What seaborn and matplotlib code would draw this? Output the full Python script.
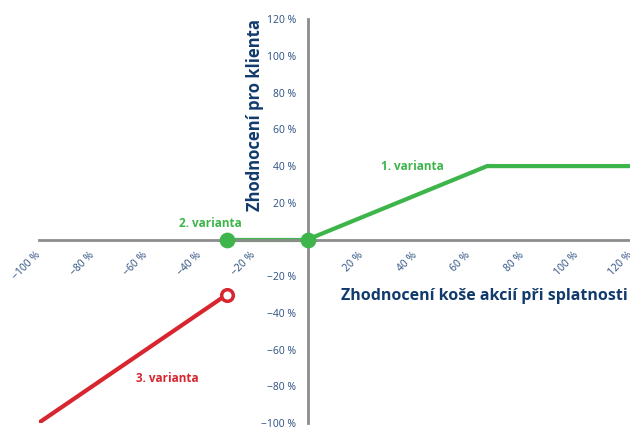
import matplotlib
matplotlib.use("Agg")
import matplotlib.pyplot as plt
import seaborn as sns
import pandas as pd

sns.set_style("white")
plt.rcParams["font.family"] = ["Open Sans", "DejaVu Sans"]

# data (% values)
v1_x = [0, 66.7, 120]
v1_y = [0, 40, 40]
v2_x = [-30, 0]
v2_y = [0, 0]
v3_x = [-100, -30]
v3_y = [-100, -30]
ticks = [-100, -80, -60, -40, -20, 20, 40, 60, 80, 100, 120]
tick_labels = ["\u2212100 %", "\u221280 %", "\u221260 %", "\u221240 %", "\u221220 %",
               "20 %", "40 %", "60 %", "80 %", "100 %", "120 %"]

GREEN = "#3db54a"
RED = "#d7262f"
BLUE = "#123b6d"
TICKBLUE = "#2b4f80"
GRAY = "#8c8c8c"

fig = plt.figure(figsize=(6.3, 4.28), dpi=100)
ax = fig.add_axes([38.5 / 630, 5 / 428, 592 / 630, 403.7 / 428])

df1 = pd.DataFrame({"x": v1_x, "y": v1_y})
df2 = pd.DataFrame({"x": v2_x, "y": v2_y})
df3 = pd.DataFrame({"x": v3_x, "y": v3_y})

sns.lineplot(data=df1, x="x", y="y", color=GREEN, lw=3, ax=ax, sort=False)
sns.lineplot(data=df2, x="x", y="y", color=GREEN, lw=3, ax=ax, sort=False)
sns.lineplot(data=df3, x="x", y="y", color=RED, lw=3, ax=ax, sort=False)
sns.scatterplot(x=v2_x, y=v2_y, color=GREEN, s=110, edgecolor=GREEN, ax=ax, zorder=5)
sns.scatterplot(x=[v3_x[-1]], y=[v3_y[-1]], color="white", s=70, edgecolor=RED,
                linewidth=2.5, ax=ax, zorder=5)

ax.set_xlim(-100, 120)
ax.set_ylim(-100, 120)
ax.spines["left"].set_position(("data", 0))
ax.spines["bottom"].set_position(("data", 0))
ax.spines["right"].set_visible(False)
ax.spines["top"].set_visible(False)
for s in ["left", "bottom"]:
    ax.spines[s].set_color(GRAY)
    ax.spines[s].set_linewidth(2)

ax.set_xticks(ticks)
ax.set_xticklabels(tick_labels, rotation=45, ha="right", va="center",
                   rotation_mode="anchor")
ax.set_yticks(ticks)
ax.set_yticklabels(tick_labels)
ax.tick_params(axis="both", direction="out", length=4, width=1.2, color=GRAY,
               labelcolor=TICKBLUE, labelsize=7.5)
ax.tick_params(axis="x", pad=6)
ax.tick_params(axis="y", pad=4)
ax.set_xlabel("")
ax.set_ylabel("")

ax.text(-19.5, 68, "Zhodnocení pro klienta", rotation=90, ha="center", va="center",
        fontsize=12, fontweight="bold", color=BLUE)
ax.text(119, -31, "Zhodnocení koše akcií při splatnosti", ha="right", va="center",
        fontsize=11.5, fontweight="bold", color=BLUE)

ax.text(39, 40, "1. varianta", ha="center", va="center", fontsize=8.5,
        fontweight="bold", color=GREEN)
ax.text(-36, 8.5, "2. varianta", ha="center", va="center", fontsize=8.5,
        fontweight="bold", color=GREEN)
ax.text(-52, -75.5, "3. varianta", ha="center", va="center", fontsize=8.5,
        fontweight="bold", color=RED)

ax.set_facecolor("white")
fig.savefig("out.png", dpi=100)
